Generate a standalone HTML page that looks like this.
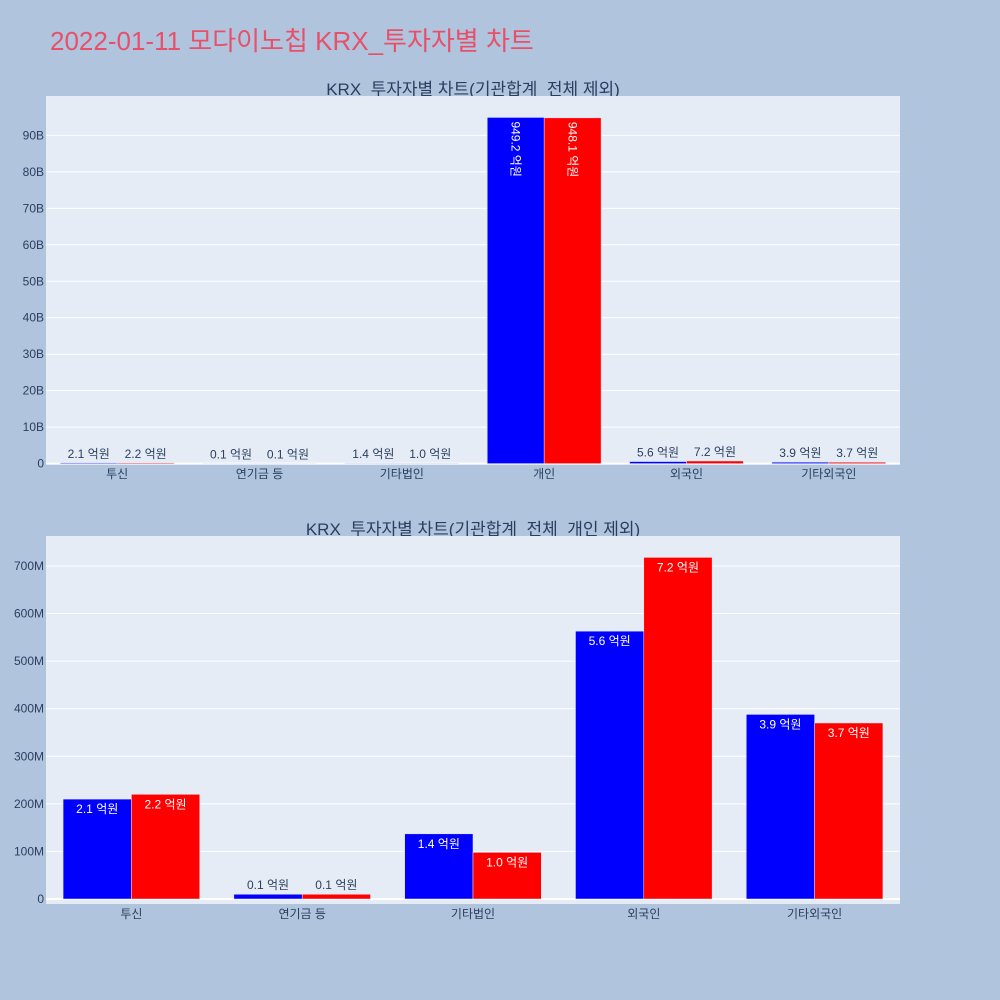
<!DOCTYPE html>
<html><head><meta charset="utf-8"><style>
body{margin:0;background:#b0c4de;}
svg{display:block;font-family:"Liberation Sans","Noto Sans CJK KR",sans-serif;}
</style></head><body>
<svg id="c" width="1000" height="1000" xmlns="http://www.w3.org/2000/svg">
<rect width="1000" height="1000" fill="#b0c4de"/>
<text x="50" y="50" font-size="26" fill="#e8506a">2022-01-11 모다이노칩 KRX_투자자별 차트</text>
<text x="473" y="95" font-size="17" fill="#2a3f5f" text-anchor="middle">KRX_투자자별 차트(기관합계_전체 제외)</text>
<text x="473" y="535" font-size="17" fill="#2a3f5f" text-anchor="middle">KRX_투자자별 차트(기관합계_전체_개인 제외)</text>
<g id="g1"></g><g id="g2"></g>
</svg>
<script>
const topCats=["투신","연기금 등","기타법인","개인","외국인","기타외국인"];
const topBuy=[0.21,0.01,0.137,94.92,0.563,0.388];
const topSell=[0.22,0.01,0.098,94.81,0.718,0.370];
const topLabelsBuy=["2.1 억원","0.1 억원","1.4 억원","949.2 억원","5.6 억원","3.9 억원"];
const topLabelsSell=["2.2 억원","0.1 억원","1.0 억원","948.1 억원","7.2 억원","3.7 억원"];
const topTicks=[0,10,20,30,40,50,60,70,80,90];
const botCats=["투신","연기금 등","기타법인","외국인","기타외국인"];
const botBuy=[210,10,137,563,388];
const botSell=[220,10,98,718,370];
const botLabelsBuy=["2.1 억원","0.1 억원","1.4 억원","5.6 억원","3.9 억원"];
const botLabelsSell=["2.2 억원","0.1 억원","1.0 억원","7.2 억원","3.7 억원"];
const botTicks=[0,100,200,300,400,500,600,700];
const NS="http://www.w3.org/2000/svg";
function mk(p,t,a){const e=document.createElementNS(NS,t);for(const k in a)e.setAttribute(k,a[k]);p.appendChild(e);return e;}
function draw(g,cats,buy,sell,lb,ls,ticks,unit,ymin,ymax,x0,x1,y0,y1,pfx){
  const Y=v=>y1-(v-ymin)/(ymax-ymin)*(y1-y0);
  const bw=(x1-x0)/cats.length;
  const r=mk(g,"rect",{x:x0,y:y0,width:x1-x0,height:y1-y0,fill:"#e5ecf6"});
  
  
  ticks.forEach(t=>{
    const l=mk(g,"line",{x1:x0,x2:x1,y1:Y(t),y2:Y(t),stroke:"#fff","stroke-width":t===0?2:1});
    
    
    const tx=mk(g,"text",{x:x0-2,y:Y(t)+4,"font-size":12,fill:"#2a3f5f","text-anchor":"end"});
    tx.textContent=t===0?"0":t+unit;
    
    
  });
  cats.forEach((c,i)=>{
    const cx=x0+bw*(i+0.5), w=bw*0.4;
    [[buy[i],lb[i],"#0000ff",cx-w],[sell[i],ls[i],"#ff0000",cx]].forEach(([v,lab,col,bx],j)=>{
      const top=Y(v),h=Y(0)-top;
      const b=mk(g,"rect",{x:bx,y:top,width:w,height:h,fill:col,stroke:"#e5ecf6","stroke-width":0.5});
      
      
      const mx=bx+w/2;let t;
      if(h>150&&pfx==="top"){
        t=mk(g,"text",{x:0,y:0,"font-size":12,fill:"#fff",transform:`translate(${mx-4},${top+4}) rotate(90)`});
      }else if(h>25){
        t=mk(g,"text",{x:mx,y:top+14,"font-size":12,fill:"#fff","text-anchor":"middle"});
      }else{
        t=mk(g,"text",{x:mx,y:top-5,"font-size":12,fill:"#2a3f5f","text-anchor":"middle"});
      }
      t.textContent=lab;
      
      
    });
    const xl=mk(g,"text",{x:cx,y:y1+14,"font-size":12,fill:"#2a3f5f","text-anchor":"middle"});
    xl.textContent=c;
    
    
  });
}
draw(document.getElementById("g1"),topCats,topBuy,topSell,topLabelsBuy,topLabelsSell,topTicks,"B",-0.11,100.8,46,900,96,464,"top");
draw(document.getElementById("g2"),botCats,botBuy,botSell,botLabelsBuy,botLabelsSell,botTicks,"M",-10.5,763,46,900,536,904,"bottom");
</script>
</body></html>
